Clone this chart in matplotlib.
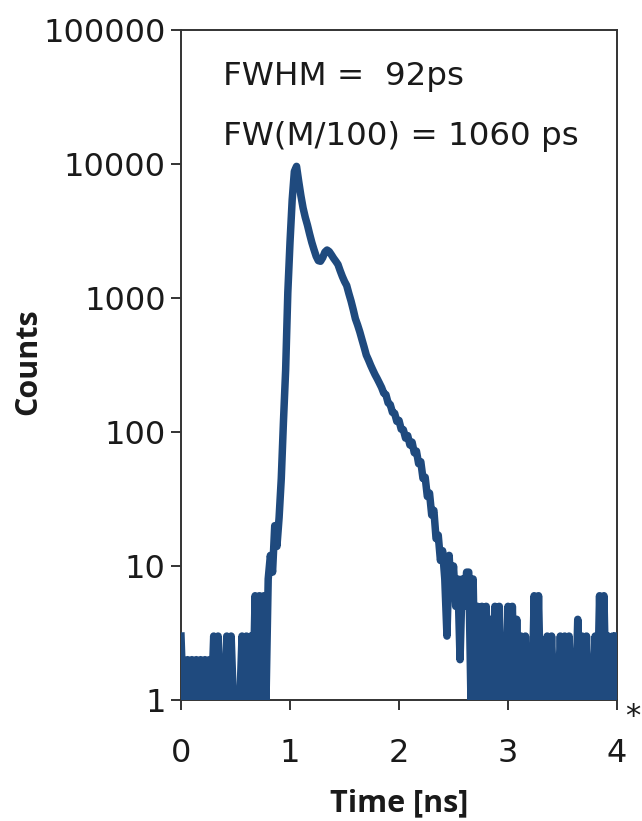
import numpy as np
import matplotlib as mpl
import matplotlib.pyplot as plt
from matplotlib.ticker import FixedLocator, FixedFormatter, NullLocator

# timing histogram, 20 ps bins from 0 to 4 ns
time_ns = np.linspace(0.0, 4.0, 201)
counts = [
    3, 1, 1, 2, 1, 2, 1, 2, 1, 2,
    1, 2, 1, 2, 1, 3, 1, 3, 1, 2,
    1, 3, 1, 3, 1, 1, 1, 1, 3, 1,
    3, 1, 3, 1, 6, 1, 6, 1, 6, 1,
    8, 12, 9, 20, 14, 23, 45, 120, 290, 1100,
    2600, 5400, 8800, 9600, 7400, 5800, 4700, 4000, 3500, 3000,
    2600, 2300, 2050, 1900, 1880, 2000, 2200, 2280, 2220, 2100,
    1980, 1880, 1780, 1600, 1450, 1330, 1240, 1080, 950, 820,
    700, 630, 560, 490, 430, 375, 345, 315, 290, 268,
    250, 232, 215, 195, 190, 165, 160, 140, 138, 120,
    122, 105, 104, 90, 94, 80, 84, 70, 72, 58,
    60, 45, 46, 33, 35, 24, 26, 16, 17, 11,
    13, 8, 3, 12, 6, 10, 5, 8, 2, 8,
    5, 9, 9, 1, 8, 1, 5, 1, 5, 1,
    5, 1, 4, 1, 5, 1, 5, 1, 3, 1,
    5, 1, 5, 1, 4, 1, 3, 1, 3, 1,
    2, 1, 6, 1, 6, 1, 2, 1, 3, 1,
    3, 1, 2, 1, 3, 1, 3, 1, 3, 1,
    2, 1, 4, 1, 3, 1, 3, 1, 2, 1,
    3, 1, 6, 1, 6, 1, 3, 1, 3, 1,
    3,
]

y_ticks = [1, 10, 100, 1000, 10000, 100000]
y_tick_labels = ['1', '10', '100', '1000', '10000', '100000']
x_ticks = [0, 1, 2, 3, 4]
x_tick_labels = ['0', '1', '2', '3', '4']
notes = ['FWHM =  92ps', 'FW(M/100) = 1060 ps']

line_color = '#1F4A7E'
axis_color = '#333333'
text_color = '#1a1a1a'

mpl.rcParams.update({
    'font.family': 'DejaVu Sans',
    'xtick.direction': 'out',
    'ytick.direction': 'out',
    'path.simplify': False,  # keep every bin of the noisy floor
})

fig = plt.figure(figsize=(6.42, 8.21), dpi=100, facecolor='white')
ax = fig.add_axes([181 / 642, 1 - 700 / 821, 436 / 642, 670 / 821])

ax.plot(time_ns, counts, color=line_color, linewidth=5.4,
        solid_joinstyle='round', zorder=3)

ax.set_yscale('log')
ax.set_xlim(0, 4)
ax.set_ylim(1, 100000)
ax.yaxis.set_major_locator(FixedLocator(y_ticks))
ax.yaxis.set_major_formatter(FixedFormatter(y_tick_labels))
ax.yaxis.set_minor_locator(NullLocator())
ax.xaxis.set_major_locator(FixedLocator(x_ticks))
ax.xaxis.set_major_formatter(FixedFormatter(x_tick_labels))

for side in ['left', 'right', 'top', 'bottom']:
    ax.spines[side].set_color(axis_color)
    ax.spines[side].set_linewidth(1.4)

ax.tick_params(axis='y', which='major', length=7, width=1.4, color=axis_color,
               labelsize=23, labelcolor=text_color, pad=4)
ax.tick_params(axis='x', which='major', length=7, width=1.4, color=axis_color,
               labelsize=23, labelcolor=text_color, pad=20)

label_font = {'family': 'Open Sans', 'weight': 'bold', 'size': 22}
ax.set_xlabel('Time [ns]', fontdict=label_font, color=text_color, labelpad=14)
ax.set_ylabel('Counts', fontdict=label_font, color=text_color)
ax.yaxis.set_label_coords(-0.315, 0.505)

ax.text(0.097, 0.918, notes[0], transform=ax.transAxes, fontsize=23.4,
        color=text_color, va='baseline', ha='left')
ax.text(0.097, 0.828, notes[1], transform=ax.transAxes, fontsize=23.4,
        color=text_color, va='baseline', ha='left')

fig.text(633 / 642, 1 - 725 / 821, '*', fontsize=22, color=text_color,
         ha='center', va='baseline')

fig.savefig('out.png', dpi=100, facecolor='white')
